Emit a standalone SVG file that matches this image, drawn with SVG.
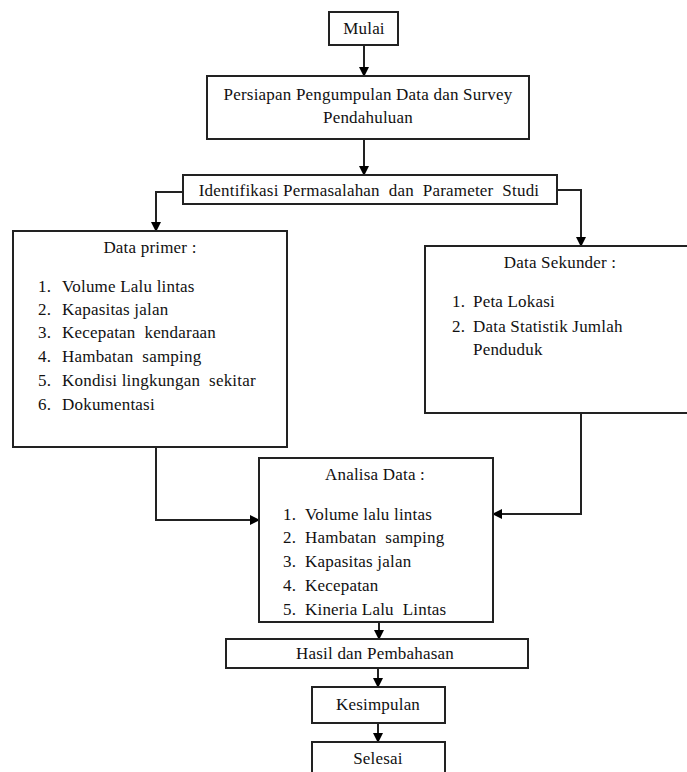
<svg xmlns="http://www.w3.org/2000/svg" width="687" height="772" viewBox="0 0 687 772">
<defs>
<marker id="ah" markerWidth="10" markerHeight="10" refX="9" refY="5" orient="auto" markerUnits="userSpaceOnUse">
<path d="M0,0 L10,5 L0,10 z" fill="#000"/>
</marker>
<style>
rect{fill:#fff;stroke:#222;stroke-width:2}
text{font-size:17px;letter-spacing:0.2px;fill:#111}
.c{text-anchor:middle}
.ln{fill:none;stroke:#222;stroke-width:2}
</style>
</defs>
<rect x="0" y="0" width="687" height="772" style="fill:#fff;stroke:none"/>
<g id="connectors">
<path class="ln" d="M364,45 V76" marker-end="url(#ah)"/>
<path class="ln" d="M364,139 V175" marker-end="url(#ah)"/>
<path class="ln" d="M183,192 H156 V231" marker-end="url(#ah)"/>
<path class="ln" d="M557,190 H581 V246" marker-end="url(#ah)"/>
<path class="ln" d="M156,447 V520 H259" marker-end="url(#ah)"/>
<path class="ln" d="M581,413 V514 H493" marker-end="url(#ah)"/>
<path class="ln" d="M379,622 V639" marker-end="url(#ah)"/>
<path class="ln" d="M378,668 V687" marker-end="url(#ah)"/>
<path class="ln" d="M378,723 V742" marker-end="url(#ah)"/>
</g>
<g font-family="'Liberation Serif', 'Times New Roman', serif">
<g id="mulai">
<rect x="329" y="12" width="69" height="33"/>
<text class="c" x="364" y="34">Mulai</text>
</g>
<g id="persiapan">
<rect x="207" y="76" width="322" height="63"/>
<text class="c" x="368" y="100">Persiapan Pengumpulan Data dan Survey</text>
<text class="c" x="368" y="123">Pendahuluan</text>
</g>
<g id="identifikasi">
<rect x="183" y="175" width="374" height="29"/>
<text class="c" x="369" y="196" xml:space="preserve">Identifikasi Permasalahan  dan  Parameter  Studi</text>
</g>
<g id="data-primer">
<rect x="13" y="231" width="274" height="216"/>
<text class="c" x="150" y="253">Data primer :</text>
<text x="38" y="292">1.</text><text x="62" y="292">Volume Lalu lintas</text>
<text x="38" y="315">2.</text><text x="62" y="315">Kapasitas jalan</text>
<text x="38" y="338">3.</text><text x="62" y="338" xml:space="preserve">Kecepatan  kendaraan</text>
<text x="38" y="362">4.</text><text x="62" y="362" xml:space="preserve">Hambatan  samping</text>
<text x="38" y="386">5.</text><text x="62" y="386" xml:space="preserve">Kondisi lingkungan  sekitar</text>
<text x="38" y="410">6.</text><text x="62" y="410">Dokumentasi</text>
</g>
<g id="data-sekunder">
<rect x="425" y="246" width="270" height="167"/>
<text class="c" x="560" y="268">Data Sekunder :</text>
<text x="452" y="307">1.</text><text x="473" y="307">Peta Lokasi</text>
<text x="452" y="332">2.</text><text x="473" y="332">Data Statistik Jumlah</text>
<text x="473" y="355">Penduduk</text>
</g>
<g id="analisa">
<rect x="259" y="458" width="234" height="164"/>
<text class="c" x="375" y="480">Analisa Data :</text>
<text x="283" y="520">1.</text><text x="305" y="520">Volume lalu lintas</text>
<text x="283" y="543">2.</text><text x="305" y="543" xml:space="preserve">Hambatan  samping</text>
<text x="283" y="567">3.</text><text x="305" y="567">Kapasitas jalan</text>
<text x="283" y="591">4.</text><text x="305" y="591">Kecepatan</text>
<text x="283" y="615">5.</text><text x="305" y="615" xml:space="preserve">Kineria Lalu  Lintas</text>
</g>
<g id="hasil">
<rect x="226" y="639" width="302" height="29"/>
<text class="c" x="375" y="659">Hasil dan Pembahasan</text>
</g>
<g id="kesimpulan">
<rect x="312" y="687" width="133" height="36"/>
<text class="c" x="378" y="710">Kesimpulan</text>
</g>
<g id="selesai">
<rect x="312" y="742" width="133" height="40"/>
<text class="c" x="378" y="764">Selesai</text>
</g>
</g>
</svg>
